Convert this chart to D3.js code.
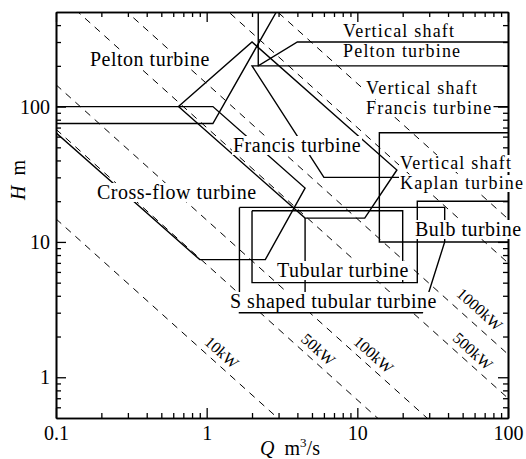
<!DOCTYPE html>
<html><head><meta charset="utf-8">
<script src="https://cdn.jsdelivr.net/npm/d3@7"></script>
<style>body{margin:0;background:#fff}svg{display:block}</style>
</head><body>
<svg id="c" width="526" height="459"></svg>
<script>
// ---------- data ----------
const xMajor = [0.1, 1, 10, 100];
const xMinor = [0.2,0.3,0.4,0.5,0.6,0.7,0.8,0.9,2,3,4,5,6,7,8,9,20,30,40,50,60,70,80,90];
const yMajor = [1, 10, 100];
const yMinor = [0.6,0.7,0.8,0.9,2,3,4,5,6,7,8,9,20,30,40,50,60,70,80,90,200,300,400];
const xTickLabels = ["0.1", "1", "10", "100"];
const yTickLabels = ["1", "10", "100"];

// constant-output lines: power (kW) and the Q·H product
const powerKW = [10, 50, 100, 500, 1000, 5000, 10000];
const powerQH = [1.48, 6.8, 14.5, 70, 148, 700, 1480];
const powerLabelQ = [1.12, 4.9, 11.4, 52, 56, null, null];

// turbine application range boundaries [Q, H]
const peltonLine   = [[0.1,75],[1.1,75],[2.9,500]];
const crossFlowLine= [[0.1,100],[1.1,100],[4.5,25],[2.45,7.4],[0.9,7.4],[0.1,64]];
const francisLine  = [[0.65,100],[2,300],[18.3,34],[11.2,15],[4.5,15],[0.65,100]];
const vPeltonLine  = [[2.2,500],[2.2,200],[100,200]];
const vFrancisLine = [[100,300],[4,300],[2.2,200],[2,200],[6,30],[100,30]];
const vFrancisMid  = [[40,100],[100,100]];
const vKaplanLine  = [[100,64],[14,64],[14,10],[100,10]];
const tubularLine  = [[2,17],[20,17],[20,5],[2,5],[2,17]];
const sTubularLine = [[1.65,18],[38,18],[38,10],[27,3],[1.65,3],[1.65,18]];
const bulbLine     = [[100,20],[25,20],[25,5],[20,5]];
const dividerLine  = [[4.5,15],[4.5,3]];
const turbineLines = [peltonLine, crossFlowLine, francisLine, vPeltonLine, vFrancisLine,
                      vFrancisMid, vKaplanLine, tubularLine, sTubularLine, bulbLine, dividerLine];

// ---------- layout ----------
const L = 56, R = 508, T = 12, B = 418;
const FONT = "'Liberation Serif','Times New Roman',serif";
const labels = [
  {t:["Pelton turbine"], x:90, y:66},
  {t:["Cross-flow turbine"], x:97, y:199},
  {t:["Francis turbine"], x:233, y:152},
  {t:["Vertical shaft","Pelton turbine"], x:343, y:37, lh:20, fs:18, ls:1.2},
  {t:["Vertical shaft","Francis turbine"], x:366, y:94, lh:20, fs:18, ls:1.2},
  {t:["Vertical shaft","Kaplan turbine"], x:400, y:169, lh:20, fs:18, ls:1.2},
  {t:["Bulb turbine"], x:415, y:236},
  {t:["Tubular turbine"], x:277, y:277},
  {t:["S shaped tubular turbine"], x:230, y:308}
];
const powerLabelOffset = [-6, -6, -6, -6, -9];

const svg = d3.select("#c");
const x = d3.scaleLog().domain([0.1, 100]).range([L, R]);
const y = d3.scaleLog().domain([0.5, 500]).range([B, T]);

svg.append("defs").append("clipPath").attr("id","clip")
  .append("rect").attr("x",L).attr("y",T).attr("width",R-L).attr("height",B-T);
const plot = svg.append("g").attr("clip-path","url(#clip)");

// dashed constant output lines
const qDom = x.domain();
plot.selectAll("line.pw").data(powerQH).enter().append("line")
  .attr("class","pw")
  .attr("x1", d => x(qDom[0])).attr("y1", d => y(d/qDom[0]))
  .attr("x2", d => x(qDom[1])).attr("y2", d => y(d/qDom[1]))
  .attr("stroke","#000").attr("stroke-width",1).attr("stroke-dasharray","7,6");

// turbine boundaries
const lineGen = d3.line().x(d => x(d[0])).y(d => y(d[1]));
plot.selectAll("path.tb").data(turbineLines).enter().append("path")
  .attr("class","tb").attr("d", lineGen)
  .attr("fill","none").attr("stroke","#000").attr("stroke-width",1.4)
  .attr("stroke-linejoin","miter");

// axes
function mk(axis, vals, size, fmt){
  return axis.tickValues(vals).tickSizeInner(size).tickSizeOuter(0).tickFormat(fmt);
}
svg.append("g").attr("transform",`translate(0,${B})`)
  .call(mk(d3.axisBottom(x), xMajor, -10, (d,i)=>xTickLabels[i]).tickPadding(8));
svg.append("g").attr("transform",`translate(0,${B})`).call(mk(d3.axisBottom(x), xMinor, -5, ()=>""));
svg.append("g").attr("transform",`translate(0,${T})`).call(mk(d3.axisTop(x), xMajor, -10, ()=>""));
svg.append("g").attr("transform",`translate(0,${T})`).call(mk(d3.axisTop(x), xMinor, -5, ()=>""));
svg.append("g").attr("transform",`translate(${L},0)`)
  .call(mk(d3.axisLeft(y), yMajor, -10, (d,i)=>yTickLabels[i]).tickPadding(6));
svg.append("g").attr("transform",`translate(${L},0)`).call(mk(d3.axisLeft(y), yMinor, -5, ()=>""));
svg.append("g").attr("transform",`translate(${R},0)`).call(mk(d3.axisRight(y), yMajor, -10, ()=>""));
svg.append("g").attr("transform",`translate(${R},0)`).call(mk(d3.axisRight(y), yMinor, -5, ()=>""));
svg.selectAll(".domain").attr("stroke","#000").attr("stroke-width",1.6);
svg.selectAll(".tick line").attr("stroke","#000").attr("stroke-width",1.3);
svg.selectAll(".tick text").attr("font-family",FONT).attr("font-size",20).attr("fill","#000");

// power labels
const ang = Math.atan2(y(1)-y(10), x(10)-x(1)) * 180/Math.PI;
powerKW.forEach((p,i) => {
  const q = powerLabelQ[i]; if (q == null) return;
  const px = x(q), py = y(powerQH[i]/q);
  svg.append("text").attr("transform",`translate(${px},${py}) rotate(${ang})`)
    .attr("dy", powerLabelOffset[i]).attr("text-anchor","middle")
    .attr("font-family",FONT).attr("font-size",16).text(p + "kW");
});

// turbine labels with white backgrounds
labels.forEach(l => {
  const g = svg.append("g");
  const rg = g.append("g");
  const t = g.append("text").attr("font-family",FONT).attr("font-size",l.fs||20)
    .attr("letter-spacing",l.ls||0.5);
  l.t.forEach((s,k) => {
    const ts = t.append("tspan").attr("x",l.x).attr("y",l.y + k*(l.lh||0)).text(s);
    const b = ts.node().getBBox();
    rg.append("rect").attr("fill","#fff")
      .attr("x",b.x-1).attr("y",b.y+2).attr("width",b.width+2).attr("height",b.height-3);
  });
});

// axis titles
const yt = svg.append("text").attr("transform","translate(25,180) rotate(-90)")
  .attr("text-anchor","middle").attr("font-family",FONT).attr("font-size",20);
yt.append("tspan").attr("font-style","italic").text("H");
yt.append("tspan").text("\u00a0\u00a0m");
const xt = svg.append("text").attr("x",290).attr("y",455)
  .attr("text-anchor","middle").attr("font-family",FONT).attr("font-size",20);
xt.append("tspan").attr("font-style","italic").text("Q");
xt.append("tspan").text("\u00a0\u00a0m");
xt.append("tspan").attr("font-size",13).attr("dy",-8).text("3");
xt.append("tspan").attr("dy",8).text("/s");
</script>
</body></html>
